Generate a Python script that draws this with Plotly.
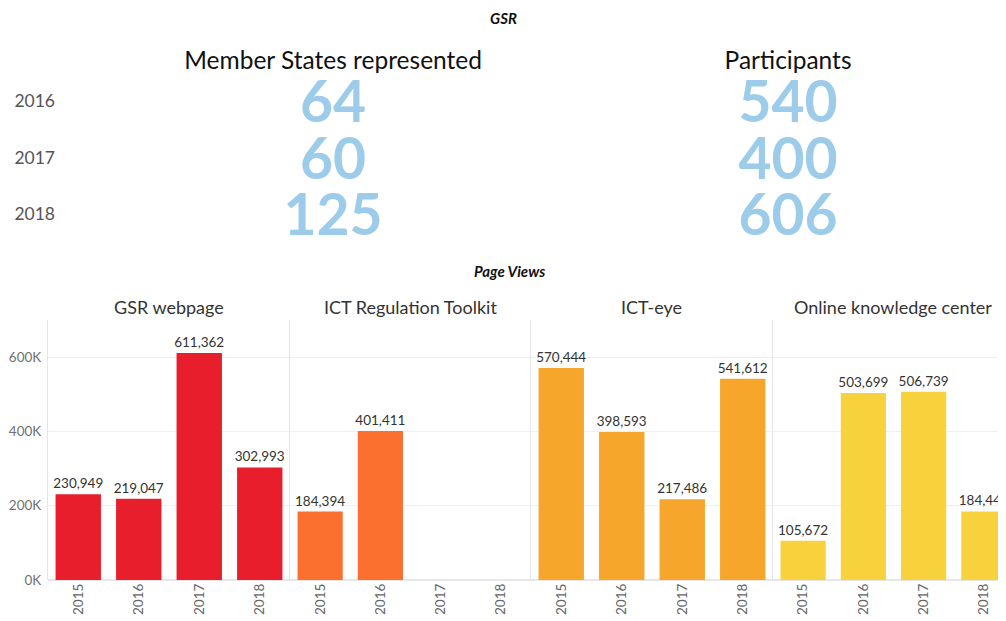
import plotly.graph_objects as go

FONT = "Lato"

# top summary
summary_years = ["2016", "2017", "2018"]
summary_cols = ["Member States represented", "Participants"]
member_states = [64, 60, 125]
participants = [540, 400, 606]

# page views
years = ["2015", "2016", "2017", "2018"]
panels = ["GSR webpage", "ICT Regulation Toolkit", "ICT-eye", "Online knowledge center"]
gsr_webpage = [230949, 219047, 611362, 302993]
ict_toolkit = [184394, 401411, 0, 0]
ict_eye = [570444, 398593, 217486, 541612]
knowledge_center = [105672, 503699, 506739, 184443]
panel_values = [gsr_webpage, ict_toolkit, ict_eye, knowledge_center]
panel_colors = ["#E81E2D", "#FB6F2F", "#F6A62A", "#F8D23C"]
y_ticks = [0, 200000, 400000, 600000]
y_ticktext = ["0K", "200K", "400K", "600K"]

# the page puts the figure 8px in from the top-left corner
OFF = 8
W, H = 1006 - OFF, 621 - OFF


def px_x(v):
    return (v - OFF) / W


def px_y(v):
    return 1 - (v - OFF) / H


def label(text, x, y, size, color="#333333"):
    fig.add_annotation(
        text=text, x=px_x(x), y=px_y(y), xref="paper", yref="paper",
        xanchor="center", yanchor="middle", showarrow=False,
        font=dict(family=FONT, size=size, color=color),
    )


fig = go.Figure()

# big numbers grid
for col, vals in zip(summary_cols, [member_states, participants]):
    fig.add_trace(go.Scatter(
        x=[col] * len(vals), y=summary_years, mode="text",
        text=[str(v) for v in vals], textposition="middle center",
        textfont=dict(family=FONT, size=57, color="#9DCBEA", weight="bold"),
        xaxis="x5", yaxis="y5", hoverinfo="skip", showlegend=False,
    ))

# bar panels
edges = [48, 290, 531, 773, 1006]
title_x = [169, 410, 651, 893]
for i, (name, vals, color) in enumerate(zip(panels, panel_values, panel_colors)):
    n = i + 1
    fig.add_trace(go.Bar(
        x=years, y=vals, marker_color=color, marker_line_width=0,
        text=[f"{v:,}" if v else "" for v in vals], textposition="outside",
        constraintext="none",
        textfont=dict(family=FONT, size=13.5, color="#333333"), cliponaxis=False,
        xaxis=f"x{n}", yaxis=f"y{n}", showlegend=False, name=name,
    ))
    left, right = edges[i], edges[i + 1]
    # last panel is cut by the right edge of the picture
    xr = [-0.5, 3.5] if i < 3 else [-0.5, (right - left) / 60.25 - 0.5]
    fig.update_layout(**{
        f"xaxis{n}": dict(
            domain=[px_x(left), px_x(right)], anchor=f"y{n}", type="category",
            range=xr, tickangle=-90, showgrid=False, ticks="", automargin=False,
            tickfont=dict(family=FONT, size=13.5, color="#666666"),
        ),
        f"yaxis{n}": dict(
            domain=[px_y(580), px_y(320)], anchor=f"x{n}", range=[0, 700000],
            tickvals=y_ticks, ticktext=y_ticktext, showticklabels=(i == 0),
            tickfont=dict(family=FONT, size=13.5, color="#707070"), automargin=False,
            ticklabelstandoff=3,
            gridcolor="#EFEFEF", zeroline=True, zerolinecolor="#E6E6E6",
            showline=True, linecolor="#E6E6E6", linewidth=1,
        ),
    })
    label(name, title_x[i], 307, 18)

fig.update_layout(
    xaxis5=dict(
        domain=[px_x(56), 1], anchor="y5", type="category", automargin=False,
        range=[-0.609, 1.479], side="top", showgrid=False, zeroline=False, ticks="",
        ticklabelstandoff=5,
        tickfont=dict(family=FONT, size=24.5, color="#111111"),
    ),
    yaxis5=dict(
        domain=[px_y(249), px_y(80)], anchor="x5", type="category", automargin=False,
        range=[2.5, -0.5], showgrid=False, zeroline=False, ticks="",
        ticklabelshift=7,
        tickfont=dict(family=FONT, size=17.5, color="#555555"),
    ),
)

label("<b><i>GSR</i></b>", 503, 18, 15, "#111111")
label("<b><i>Page Views</i></b>", 510, 271, 15, "#111111")

fig.update_layout(
    width=W, height=H, margin=dict(l=0, r=0, t=0, b=0, autoexpand=False),
    plot_bgcolor="white", paper_bgcolor="white", bargap=0.25,
    font=dict(family=FONT),
)

fig.write_html("out.html")
